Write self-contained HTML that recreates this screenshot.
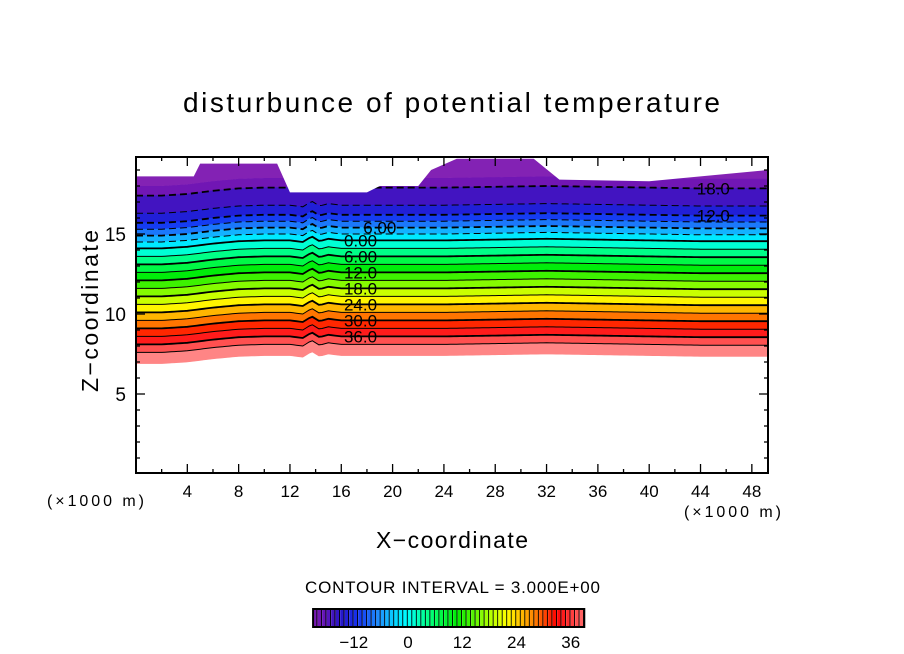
<!DOCTYPE html>
<html><head><meta charset="utf-8"><style>
body{margin:0;background:#fff;}
svg{display:block;font-family:"Liberation Sans",sans-serif;}
</style></head><body>
<svg id="chart" width="904" height="654" viewBox="0 0 904 654">
<text x="183" y="112" font-size="28" textLength="537" lengthAdjust="spacing">disturbunce of potential temperature</text>
<g id="plot"></g>
<g id="axes"></g>
<text x="98" y="392" font-size="23" textLength="162" lengthAdjust="spacing" transform="rotate(-90 98 392)">Z−coordinate</text>
<text x="376" y="548" font-size="23" textLength="152" lengthAdjust="spacing">X−coordinate</text>
<text x="47" y="506" font-size="16" textLength="97" lengthAdjust="spacing">(×1000 m)</text>
<text x="684" y="517" font-size="16" textLength="97" lengthAdjust="spacing">(×1000 m)</text>
<text x="305" y="593" font-size="17" textLength="295" lengthAdjust="spacing">CONTOUR INTERVAL = 3.000E+00</text>
<g id="cbar"></g>
</svg>
<script>
const levels=[-21,-18,-15,-12,-9,-6,-3,0,3,6,9,12,15,18,21,24,27,30,33,36,39,42];
const levelZ=[18.3,17.7,16.6,16.0,15.6,15.2,14.8,14.4,13.9,13.4,12.9,12.4,11.9,11.4,10.9,10.4,9.9,9.4,8.9,8.4,7.9,7.2];
const dispX=[0,2,4,6,8,10,12,13,13.7,14.3,15,16,18,20,24,28,32,36,40,44,49.25];
const dispZ=[-0.3,-0.3,-0.2,0,0.15,0.2,0.2,0.1,0.45,0.15,0.3,0.2,0.2,0.2,0.2,0.25,0.3,0.25,0.2,0.15,0.15];
const topX=[0,4.5,5,11,12,18,19,22,23,25,31,33,40,44,49.25];
const topZ=[18.6,18.6,19.4,19.4,17.6,17.6,18.0,18.0,19.0,19.7,19.7,18.4,18.3,18.6,19.0];
const xTicks=[4,8,12,16,20,24,28,32,36,40,44,48];
const yTicks=[5,10,15];
const cbTicks=[-12,0,12,24,36];
const X=x=>136+x*12.83, Y=z=>474-z*16;
const NS="http://www.w3.org/2000/svg";
function mk(tag,at,parent){const e=document.createElementNS(NS,tag);for(const k in at)e.setAttribute(k,at[k]);parent.appendChild(e);return e;}
const stops=[[-24,[140,40,180]],[-19,[110,20,180]],[-15,[40,20,200]],[-11,[20,50,240]],[-6,[30,150,255]],[-2,[0,225,255]],[0,[0,255,255]],[3,[0,255,170]],[6,[0,255,100]],[11,[0,235,0]],[18,[170,255,0]],[22,[255,255,0]],[28,[255,130,0]],[33,[255,0,0]],[42,[255,160,160]]];
function cmap(v){for(let i=0;i<stops.length-1;i++){const[a,ca]=stops[i],[b,cb]=stops[i+1];if(v<=b){const t=Math.max(0,(v-a)/(b-a));return`rgb(${ca.map((c,j)=>Math.round(c+(cb[j]-c)*t)).join(',')})`;}}return'rgb(255,160,160)';}
function interp(xa,za,x){for(let i=0;i<xa.length-1;i++){if(x<=xa[i+1]){const t=(x-xa[i])/(xa[i+1]-xa[i]);return za[i]+(za[i+1]-za[i])*t;}}return za[za.length-1];}
const xs=[];for(let x=0;x<=49.25;x+=0.25)xs.push(x);xs.push(49.25);
const plot=document.getElementById('plot');
function line(i){return xs.map(x=>[X(x),Y(levelZ[i]+interp(dispX,dispZ,x))]);}
for(let i=0;i<levels.length-1;i++){
 const a=line(i),b=line(i+1).reverse();
 const c=cmap((levels[i]+levels[i+1])/2);
 const p=mk('polygon',{points:a.concat(b).map(q=>q.join(',')).join(' '),fill:c,stroke:c,'stroke-width':0.6},plot);
 
 
}
{const a=xs.map(x=>[X(x),Y(19.75)]),b=line(0).reverse();
 const p=mk('polygon',{points:a.concat(b).map(q=>q.join(',')).join(' '),fill:cmap(-22.5)},plot);
 
 }
for(let i=1;i<levels.length-1;i++){
 const v=levels[i];
 const pl=mk('polyline',{points:line(i).map(q=>q.join(',')).join(' '),fill:'none',stroke:'#000','stroke-width':(v%6===0)?1.8:1,'stroke-dasharray':v<0?'7,4':'none'},plot);
 
 
 if(v%6===0&&v<=36){
  const lx=v<-6?45:(v===-6?19:17.5);
  const z=levelZ[i]+interp(dispX,dispZ,lx);
  const lbl=v===0?'0.00':(Math.abs(v)<10?Math.abs(v).toFixed(2):Math.abs(v).toFixed(1));
  const t=mk('text',{x:X(lx),y:Y(z)+6,'font-size':17,'text-anchor':'middle'},plot);
  t.textContent=lbl;
  
  
 }
}
{const pts=[[X(0),Y(20)]].concat(topX.map((x,k)=>[X(x),Y(topZ[k])])).concat([[X(49.25),Y(20)]]);
 const p=mk('polygon',{points:pts.map(q=>q.join(',')).join(' '),fill:'#fff'},plot);
 
 }
const ax=document.getElementById('axes');
const fr=mk('rect',{x:136,y:157,width:632,height:316,fill:'none',stroke:'#000','stroke-width':2},ax);


for(let x=2;x<49.25;x+=2){const L=(x%4===0)?9:4;
 mk('line',{x1:X(x),x2:X(x),y1:473,y2:473-L,stroke:'#000','stroke-width':1.3},ax);
 mk('line',{x1:X(x),x2:X(x),y1:157,y2:157+L,stroke:'#000','stroke-width':1.3},ax);}
xTicks.forEach(x=>{const t=mk('text',{x:X(x),y:497,'font-size':17,'text-anchor':'middle'},ax);t.textContent=x;
 
 });
for(let z=1;z<19.75;z+=1){const L=(z%5===0)?9:4;
 mk('line',{x1:136,x2:136+L,y1:Y(z),y2:Y(z),stroke:'#000','stroke-width':1.3},ax);
 mk('line',{x1:768,x2:768-L,y1:Y(z),y2:Y(z),stroke:'#000','stroke-width':1.3},ax);}
yTicks.forEach(z=>{const t=mk('text',{x:126,y:Y(z)+7,'font-size':19,'text-anchor':'end'},ax);t.textContent=z;
 
 });
const cb=document.getElementById('cbar');
const CX=v=>408+v*4.52;
for(let v=-21;v<39;v+=1){
 const r=mk('rect',{x:CX(v),y:609,width:4.52,height:18,fill:cmap(v+0.5)},cb);
 
 
 mk('line',{x1:CX(v)+3.8,x2:CX(v)+3.8,y1:609,y2:627,stroke:'#000','stroke-width':0.9},cb);
}
mk('rect',{x:CX(-21),y:609,width:60*4.52,height:18,fill:'none',stroke:'#000','stroke-width':2},cb);
cbTicks.forEach(v=>{const t=mk('text',{x:CX(v),y:648,'font-size':17,'text-anchor':'middle'},cb);t.textContent=v<0?'−'+(-v):v;
 
 });
</script>
</body></html>
